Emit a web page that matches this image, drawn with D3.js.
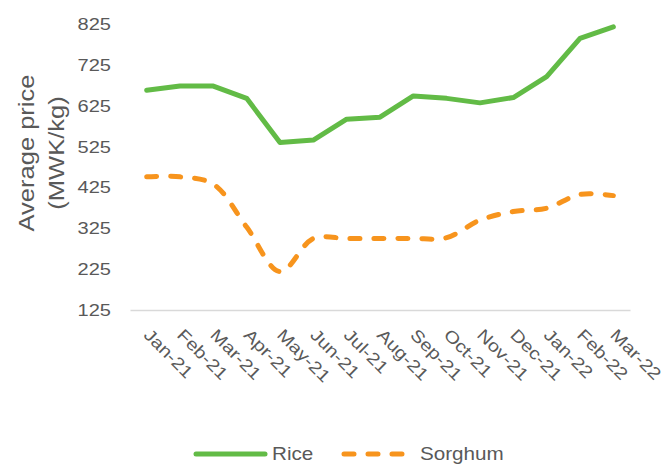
<!DOCTYPE html>
<html>
<head>
<meta charset="utf-8">
<script src="https://cdn.jsdelivr.net/npm/d3@7"></script>
<style>
  body { margin: 0; background: #fff; }
  text { font-family: "Liberation Sans", Arial, sans-serif; fill: #595959; }
</style>
</head>
<body>
<svg id="canvas" width="669" height="464"></svg>
<script>
let months = ["Jan-21", "Feb-21", "Mar-21", "Apr-21", "May-21", "Jun-21", "Jul-21", "Aug-21",
  "Sep-21", "Oct-21", "Nov-21", "Dec-21", "Jan-22", "Feb-22", "Mar-22"];
let rice = [663, 673, 673, 643, 535, 541, 592, 597, 649, 643, 632, 645, 696, 790, 818];
let sorghum = [451, 451, 433, 328, 219, 300, 300, 300, 300, 302, 345, 366, 374, 408, 405];
let yTicks = [125, 225, 325, 425, 525, 625, 725, 825];

let canvas = d3.select("#canvas");

let x = d3.scaleBand().domain(months).range([130, 630]);
let y = d3.scaleLinear().domain([125, 825]).range([310, 24]);

// y tick labels (text a bit wider than plain Arial, hence the scale)
canvas.append("g")
  .attr("transform", "translate(111,0)")
  .call(d3.axisLeft(y).tickValues(yTicks).tickSize(0).tickPadding(0))
  .call((g) => g.select(".domain").remove())
  .selectAll("text")
  .attr("x", 0)
  .attr("transform", "scale(1.18,1)")
  .style("font-size", "17px")
  .style("fill", "#595959")
  .style("font-family", "Liberation Sans, Arial, sans-serif");

// x axis
let xAxis = canvas.append("g")
  .attr("transform", "translate(0,310)")
  .call(d3.axisBottom(x).tickSize(0).tickSizeOuter(0));
xAxis.select(".domain").attr("stroke", "#d9d9d9").attr("stroke-width", 1.5);
xAxis.selectAll("text")
  .style("font-size", "17px")
  .style("fill", "#595959")
  .style("font-family", "Liberation Sans, Arial, sans-serif")
  .attr("text-anchor", "start")
  .attr("dy", null)
  .attr("y", 0)
  .attr("transform", "translate(-4,26) rotate(45) scale(1.18,1)");

// axis title
canvas.append("text")
  .attr("transform", "translate(34,153) rotate(-90) scale(1.16,1)")
  .attr("text-anchor", "middle")
  .style("font-size", "22px")
  .selectAll("tspan")
  .data(["Average price", "(MWK/kg)"])
  .enter()
  .append("tspan")
  .attr("x", 0)
  .attr("y", (d, i) => i * 30)
  .text((d) => d);

let line = d3.line()
  .x((d, i) => x(months[i]) + x.bandwidth() / 2)
  .y((d) => y(d));

canvas.append("path")
  .datum(rice)
  .attr("d", line)
  .attr("fill", "none")
  .attr("stroke", "#62bb46")
  .attr("stroke-width", 5)
  .attr("stroke-linejoin", "round")
  .attr("stroke-linecap", "round");

canvas.append("path")
  .datum(sorghum)
  .attr("d", line.curve(d3.curveCatmullRom.alpha(0.5)))
  .attr("fill", "none")
  .attr("stroke", "#f7941d")
  .attr("stroke-width", 5)
  .attr("stroke-dasharray", "10 14")
  .attr("stroke-linejoin", "round")
  .attr("stroke-linecap", "round");

// legend
let legend = canvas.append("g");
legend.append("line")
  .attr("x1", 196).attr("x2", 265).attr("y1", 454).attr("y2", 454)
  .attr("stroke", "#62bb46").attr("stroke-width", 5).attr("stroke-linecap", "round");
legend.append("text").attr("transform", "translate(272,460) scale(1.18,1)")
  .style("font-size", "17.5px").text("Rice");
legend.append("line")
  .attr("x1", 344).attr("x2", 406).attr("y1", 454).attr("y2", 454)
  .attr("stroke", "#f7941d").attr("stroke-width", 5).attr("stroke-linecap", "round")
  .attr("stroke-dasharray", "10 14");
legend.append("text").attr("transform", "translate(420,460) scale(1.18,1)")
  .style("font-size", "17.5px").text("Sorghum");
</script>
</body>
</html>
